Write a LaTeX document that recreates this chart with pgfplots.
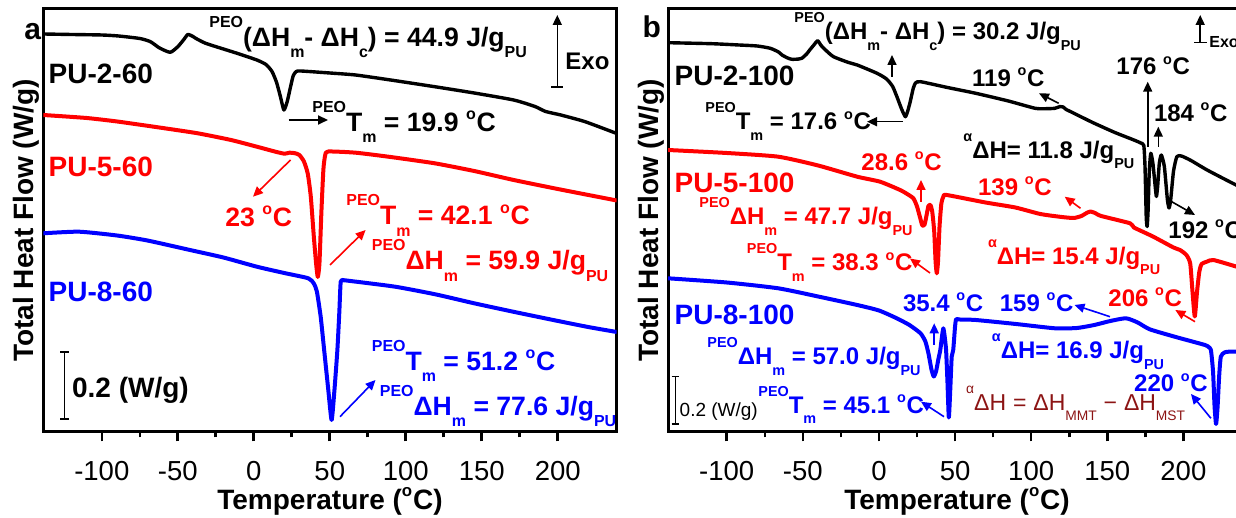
\documentclass[border=0pt]{standalone}
\usepackage{fontspec}
\setmainfont{Liberation Sans}
\usepackage{pgfplots}
\pgfplotsset{compat=1.18}
\usetikzlibrary{arrows.meta}
\definecolor{dred}{RGB}{140,20,20}
\newcommand\sps[1]{\raisebox{0.72em}{\scalebox{0.6}{#1}}}
\newcommand\sbs[1]{\raisebox{-0.42em}{\scalebox{0.6}{#1}}}
\newcommand\dg{\raisebox{0.45em}{\scalebox{0.6}{o}}\kern0.03em}
\newcommand\fa{\fontsize{13.3}{15}\selectfont\bfseries}
\newcommand\fb{\fontsize{12}{14}\selectfont\bfseries}
\newcommand\flab{\fontsize{14}{16}\selectfont\bfseries}
\pgfplotsset{dsc/.style={scale only axis, height=211.6pt,
  ymin=0, ymax=423.2,
  xtick={-100,-50,0,50,100,150,200}, xticklabels={-100,-50,0,50,100,150,200},
  minor x tick num=1, ytick=\empty, xtick pos=left, tick align=outside,
  major tick length=5pt, minor tick length=3pt,
  every tick/.style={black,line width=1.3pt},
  axis line style={line width=1.5pt},
  xticklabel style={font=\fontsize{13.75}{16}\selectfont, anchor=center, yshift=-14.75pt},
  every axis plot/.append style={smooth, tension=0.35, line join=round}}}
\tikzset{arr/.style={-{Triangle[length=5pt,width=4.5pt]}, line width=0.8pt}}
\begin{document}
\begin{tikzpicture}
\useasboundingbox (0,0) rectangle (618pt,259pt);
\clip (0,0) rectangle (618pt,259pt);
% ---------------- panel a
\begin{axis}[dsc, at={(21.65pt,43.25pt)}, anchor=south west, width=286.7pt, xmin=-138.5, xmax=238.8]
\addplot[black, line width=1.7pt] coordinates {
(-138.5,397.5) (-120,397) (-100,396.5) (-89,395.5) (-75,393) (-68,389.8) (-62,383.5)
(-55,379.2) (-50,384.8) (-46,392) (-43.4,397) (-40,395) (-38,393) (-31.7,388.2)
(-20,382.5) (-11,378.2) (2,371.5) (8,367) (12,360) (15,349) (17.5,335) (19.8,321.5)
(22,330) (24.2,344.8) (26,356) (28,360) (31,360.5) (50,358.5) (67,356.5) (90,351.5)
(119,344.8) (145,338.5) (171,331.5) (185,325) (192,320) (202,316.5) (218,309.8) (238.8,298)};
\addplot[red, line width=2pt] coordinates {
(-138.5,316.5) (-110,313.5) (-88.9,309.8) (-60,303.5) (-36.9,298.2) (-15,291.5) (2,284.8)
(15,279.5) (20.3,277.8) (23.5,278.8) (27,278.3) (30,276.5) (33,270) (35.5,258) (37.5,235)
(39.5,195) (41,168) (42.1,154.5) (43.2,168) (44.5,220) (45.8,262) (47,276.5) (49,280)
(67,278.8) (90,274.5) (119,268.2) (145,260.5) (171,251.5) (200,242.5) (238.8,231)};
\addplot[blue, line width=2pt] coordinates {
(-138.5,198.2) (-115,199.8) (-90,196) (-70,191) (-42,181.5) (-20,174) (2,164.8) (20,158.5)
(35.9,153.2) (39.5,148) (41.5,140) (44,115) (46.3,81.5) (49,42) (51.2,11.5) (53,40)
(55,81.5) (56.3,120) (57.2,149.8) (59,151.2) (62,150.8) (93,144.8) (120,137) (145,128.2)
(170,120) (197,111.5) (220,104.5) (238.8,99.5)};
\end{axis}
% ---------------- panel b
\begin{axis}[dsc, at={(334pt,43.25pt)}, anchor=south west, width=287.2pt, xmin=-138.6, xmax=238.8]
\addplot[black, line width=1.7pt] coordinates {
(-138.6,388.8) (-110,387.8) (-92,386.5) (-80,385.5) (-71.4,383.2) (-66,379.5) (-63.7,376.5)
(-60,373.5) (-57.2,372.2) (-53,372.4) (-50.7,373.2) (-47.5,377.5) (-45.5,381.5) (-42.5,387)
(-40.3,390.8) (-38,386) (-35.1,381.5) (-29.9,374.8) (-20,369) (-14.3,366.5) (-1.25,358.2)
(5,352.5) (9,345) (12,334) (15,322) (17.4,314.8) (19.2,322) (20.8,331.5) (22.5,343) (24,348.5)
(27.3,349.8) (45,344) (63.6,338.2) (85,330.5) (102.6,323.2) (110,322.8) (115.6,323.2)
(119,325) (121,324.5) (123,322) (126,319.8) (135,313) (141.5,308.2) (155,299) (167.5,291.5)
(172,288.5) (174,286) (174.8,265) (175.6,215) (176.2,205) (176.8,220) (177.6,260) (178.6,278.2)
(180,268) (181.5,245) (182.3,235) (183.1,245) (184.2,268) (185.5,276.5)
(187.5,265) (189.5,232) (190.6,223.5) (191.7,232) (193.5,260) (195.7,274.8)
(198.7,275.5) (205,271) (215,262) (225,254) (234.6,246.5) (238.8,243.5)};
\addplot[red, line width=2pt] coordinates {
(-138.6,281.5) (-100,278.5) (-66.2,274.8) (-40,266) (-14.3,254.8) (0.7,249.8) (13.9,241.5)
(18,238) (22.6,233.2) (25,225) (27,214) (28.5,206) (30,207) (31.5,218) (32.5,225.5) (33.8,226.5)
(35,220) (36.3,200) (37.2,170) (38,158.2) (38.8,170) (39.8,205) (41,228) (42.3,234.8) (44.5,236.5)
(70,229) (89.6,224) (106,217.5) (120,214.5) (128,213.5) (133,215.5) (137,219) (139,220)
(142,218.5) (146,215.5) (165,208.2) (167.5,204) (180,195) (193.5,184) (197.8,181.5) (202,176.5)
(204.5,168) (206,140) (207.5,115) (209,140) (210.5,160) (212,167.5) (215.4,169.8) (219.7,171.5)
(234.6,165) (238.8,163)};
\addplot[blue, line width=2pt] coordinates {
(-138.6,153.2) (-100,149) (-66.2,143.2) (-40,135) (-14.3,126.5) (0,121) (11.7,113.2) (20,106.5)
(27.3,98.2) (30.5,90) (32.5,78.2) (34.5,62) (36,55) (37.5,60) (39,72) (40.3,81.5) (41.5,96)
(42.3,103.2) (43.1,96) (44.1,81.5) (45,50) (45.9,14) (46.8,40) (47.8,75) (48.8,81.5) (50,105)
(50.7,112.2) (53,112) (63.6,111.5) (90,107.5) (115.6,103.2) (130,103.5) (141.5,106.5)
(152,110.5) (162.3,113.2) (170,109) (177.9,102.2) (195,94.5) (214.2,86.5) (216.5,84.5)
(218.1,81.5) (219.5,60) (220.5,25) (221.5,7.5) (222.5,25) (223.5,55) (224.6,74.8) (227,79)
(229.8,79.8) (238.8,80)};
\end{axis}
% ---------------- annotations (pixel coordinates, origin top-left)
\begin{scope}[x=0.5pt,y=-0.5pt,shift={(0pt,259pt)}]
\tikzset{every node/.style={inner sep=0pt}}
% axis labels
\node[rotate=90, anchor=base, font=\flab] at (33.5,220.5) {Total Heat Flow (W/g)};
\node[rotate=90, anchor=base, font=\flab] at (658,220.5) {Total Heat Flow (W/g)};
\node[anchor=base, font=\flab] at (330,509.5) {Temperature (\dg C)};
\node[anchor=base, font=\flab] at (957,509.5) {Temperature (\dg C)};
\node[font=\fontsize{15}{17}\selectfont\bfseries] at (32.6,32) {a};
\node[font=\fontsize{15}{17}\selectfont\bfseries] at (651.7,26.7) {b};
% ---- panel a
\node[anchor=base west, font=\fa] at (209,46.7) {\sps{PEO}(ΔH\sbs{m}- ΔH\sbs{c}) = 44.9 J/g\sbs{PU}};
\draw[arr] (557.3,87.3) -- (557.3,15);
\draw[line width=0.8pt] (551.4,87.3) -- (563.3,87.3);
\node[anchor=west, font=\fontsize{12}{14}\selectfont\bfseries] at (565,61.7) {Exo};
\node[font=\flab] at (100.8,74.2) {PU-2-60};
\draw[arr, line width=1pt] (288.5,120) -- (328,120);
\node[anchor=base west, font=\fa] at (312,131.7) {\sps{PEO}T\sbs{m} = 19.9 \dg C};
\node[font=\flab, text=red] at (100.8,166.7) {PU-5-60};
\draw[arr, red] (290.5,160) -- (253,196.7);
\node[anchor=base west, font=\fa, text=red] at (225,226.7) {23 \dg C};
\node[anchor=base west, font=\fa, text=red] at (346,225) {\sps{PEO}T\sbs{m} = 42.1 \dg C};
\node[anchor=base west, font=\fa, text=red] at (371.5,270) {\sps{PEO}ΔH\sbs{m} = 59.9 J/g\sbs{PU}};
\draw[arr, red] (330,265) -- (365.6,230);
\node[font=\flab, text=blue] at (100.8,291.7) {PU-8-60};
\node[anchor=base west, font=\fa, text=blue] at (371.5,370.7) {\sps{PEO}T\sbs{m} = 51.2 \dg C};
\node[anchor=base west, font=\fa, text=blue] at (379.5,415.7) {\sps{PEO}ΔH\sbs{m} = 77.6 J/g\sbs{PU}};
\draw[arr, blue] (340,416.7) -- (375.5,380);
\draw[line width=0.8pt] (64.3,352.3) -- (64.3,419) (60,352.3) -- (69,352.3) (60,419) -- (69,419);
\node[anchor=base west, font=\flab] at (71.7,398) {0.2 (W/g)};
% ---- panel b
\node[anchor=base west, font=\fb] at (794,40) {\sps{PEO}(ΔH\sbs{m}- ΔH\sbs{c}) = 30.2 J/g\sbs{PU}};
\draw[arr] (892,76.7) -- (892,55);
\draw[arr] (1200.2,42.7) -- (1200.2,15);
\draw[line width=0.8pt] (1194,42.7) -- (1206.5,42.7);
\node[anchor=west, font=\fontsize{8}{10}\selectfont\bfseries] at (1209,42.5) {Exo};
\node[font=\flab] at (734.6,76) {PU-2-100};
\node[anchor=base west, font=\fb] at (971.8,86.7) {119 \dg C};
\draw[arr] (1058.7,103.3) -- (1039,93.3);
\node[anchor=base west, font=\fb] at (705,130) {\sps{PEO}T\sbs{m} = 17.6 \dg C};
\draw[arr] (902.6,121.7) -- (867,121.7);
\node[anchor=base west, font=\fb] at (1116,75) {176 \dg C};
\draw[arr] (1147.7,146.7) -- (1147.7,81.7);
\node[anchor=base west, font=\fb] at (1153.6,121.7) {184 \dg C};
\draw[arr] (1158.3,146.7) -- (1158.3,126.7);
\node[anchor=base west, font=\fb] at (963,158.3) {\sps{α}ΔH= 11.8 J/g\sbs{PU}};
\node[anchor=base west, font=\fb] at (1168,238.3) {192 \dg C};
\draw[arr] (1171.7,201.7) -- (1195,215);
\node[font=\flab, text=red] at (734.6,182.5) {PU-5-100};
\node[anchor=base west, font=\fb, text=red] at (699,225) {\sps{PEO}ΔH\sbs{m} = 47.7 J/g\sbs{PU}};
\node[anchor=base west, font=\fb, text=red] at (861,170.5) {28.6 \dg C};
\draw[arr, red] (921,201.7) -- (921,180);
\node[anchor=base west, font=\fb, text=red] at (977.7,195.5) {139 \dg C};
\draw[arr, red] (1080.5,208.3) -- (1064.7,196.7);
\node[anchor=base west, font=\fb, text=red] at (746.5,271) {\sps{PEO}T\sbs{m} = 38.3 \dg C};
\draw[arr, red] (930,273) -- (910,258.5);
\node[anchor=base west, font=\fb, text=red] at (987.6,264.5) {\sps{α}ΔH= 15.4 J/g\sbs{PU}};
\node[anchor=base west, font=\fb, text=red] at (1108,306.7) {206 \dg C};
\draw[arr, red] (1195,321.7) -- (1175.3,310);
\node[font=\flab, text=blue] at (734.6,315) {PU-8-100};
\node[anchor=base west, font=\fb, text=blue] at (902.6,311.7) {35.4 \dg C};
\draw[arr, blue] (934.2,345) -- (934.2,323.3);
\node[anchor=base west, font=\fb, text=blue] at (999.4,311.7) {159 \dg C};
\draw[arr, blue] (1110,316.7) -- (1074.5,305);
\node[anchor=base west, font=\fb, text=blue] at (707,365) {\sps{PEO}ΔH\sbs{m} = 57.0 J/g\sbs{PU}};
\node[anchor=base west, font=\fb, text=blue] at (991.5,359) {\sps{α}ΔH= 16.9 J/g\sbs{PU}};
\node[anchor=base west, font=\fb, text=blue] at (1133.8,392) {220 \dg C};
\draw[arr, blue] (1210.9,418.3) -- (1191,394);
\node[anchor=base west, font=\fb, text=blue] at (758,413.3) {\sps{PEO}T\sbs{m} = 45.1 \dg C};
\draw[arr, blue] (944,416.7) -- (921,401.7);
\node[anchor=base west, font=\fontsize{11.5}{13}\selectfont, text=dred] at (965.8,410.5) {\sps{α}ΔH\hspace{0.3em}=\hspace{0.3em}ΔH\sbs{MMT}\hspace{0.3em}−\hspace{0.3em}ΔH\sbs{MST}};
\draw[line width=0.8pt] (675.3,376.7) -- (675.3,424) (671.5,376.7) -- (679,376.7) (671.5,424) -- (679,424);
\node[anchor=base west, font=\fontsize{9.5}{11}\selectfont] at (679.3,416.7) {0.2 (W/g)};
\end{scope}
\end{tikzpicture}
\end{document}
